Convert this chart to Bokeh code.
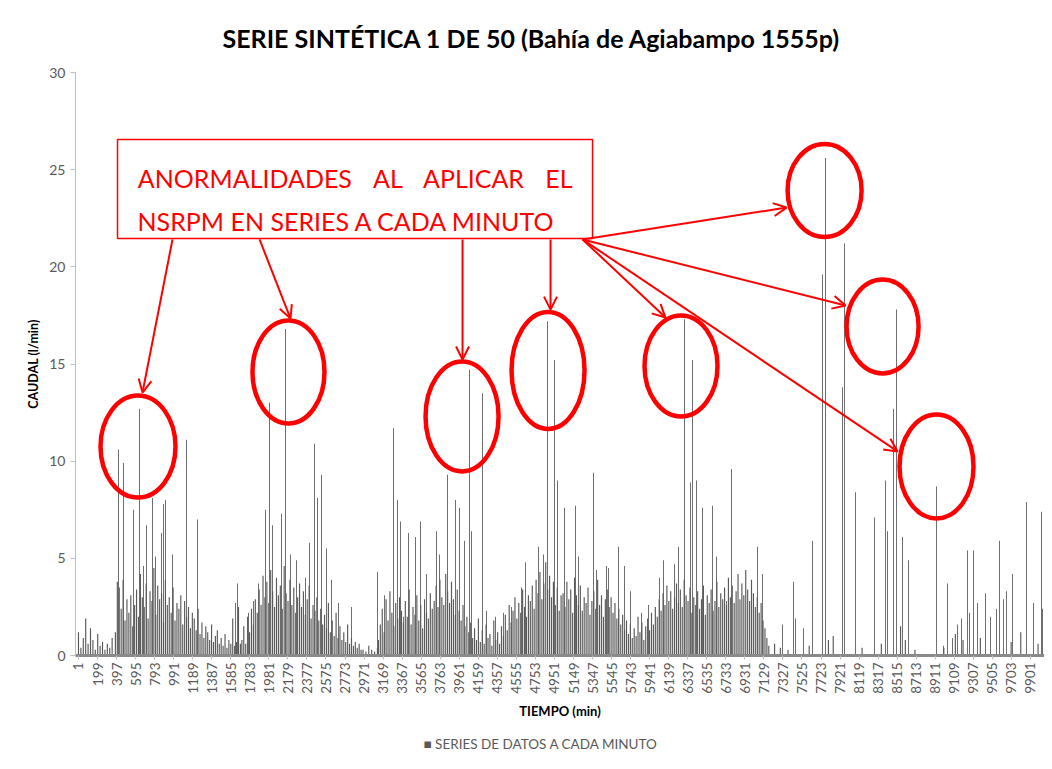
import numpy as np
from bokeh.plotting import figure
from bokeh.models import (ColumnDataSource, FixedTicker, Range1d, BoxAnnotation,
                          Label, Arrow, OpenHead, Title)
from bokeh.embed import file_html
from bokeh.resources import INLINE

# ---------------- DATA (minute index, caudal l/min) ----------------
spike_min = [417, 469, 573, 635, 677, 708, 771, 802, 864, 885, 906, 979, 1124, 1239,
             1634, 1655, 1769, 1821, 1873, 1946, 1987, 2019, 2112, 2154, 2206, 2268,
             2362, 2403, 2455, 2487, 2528, 2580, 2632, 2705, 2840, 3111, 3183, 3277,
             3319, 3350, 3381, 3433, 3506, 3558, 3620, 3724, 3755, 3839, 3922, 3963,
             4015, 4067, 4088, 4203, 4244, 4338, 4421, 4504, 4608, 4650, 4785, 4837,
             4879, 4951, 4983, 5055, 5170, 5201, 5357, 5388, 5492, 5513, 5617, 5679,
             5742, 5856, 5929, 6043, 6085, 6199, 6241, 6303, 6366, 6387, 6428, 6491,
             6595, 6636, 6740, 6792, 7063, 7115, 7323, 7437, 7458, 7541, 7635, 7739,
             7770, 7947, 7967, 8082, 8279, 8394, 8415, 8477, 8508, 8571, 8633, 8924,
             8997, 9039, 9091, 9143, 9184, 9247, 9267, 9309, 9351, 9434, 9486, 9548,
             9579, 9621, 9652, 9715, 9860, 9933, 10016, 10027]
spike_val = [10.6, 9.9, 7.5, 12.7, 4.6, 6.7, 8.1, 5.1, 6.3, 7.8, 8.0, 5.2, 11.1, 7.0,
             2.7, 3.7, 2.2, 2.8, 3.7, 7.5, 13.0, 6.7, 7.3, 16.8, 5.2, 4.9,
             4.0, 5.8, 10.9, 8.1, 9.3, 5.5, 3.9, 2.7, 2.5, 4.3, 3.1, 11.7,
             8.0, 6.9, 2.0, 6.3, 6.1, 6.9, 4.2, 6.4, 5.2, 9.3, 8.0, 7.6,
             5.9, 14.7, 6.4, 13.5, 2.3, 2.0, 2.2, 2.5, 3.5, 4.8, 5.6, 5.2,
             17.2, 15.2, 9.0, 7.6, 7.7, 5.1, 9.4, 4.4, 4.6, 4.5, 5.6, 4.6,
             3.3, 2.2, 2.6, 4.0, 4.9, 4.7, 5.6, 17.3, 8.9, 15.2, 9.0, 7.6,
             7.7, 5.1, 2.8, 9.6, 5.6, 4.2, 1.6, 3.8, 1.9, 1.4, 5.9, 19.6,
             25.6, 13.8, 21.2, 8.4, 7.1, 9.0, 6.4, 12.7, 17.8, 6.1, 4.9, 8.7,
             0.5, 3.7, 0.9, 1.6, 1.9, 5.4, 2.2, 5.4, 2.7, 3.2, 2.0, 2.4,
             5.9, 2.9, 3.3, 4.2, 7.9, 2.7, 7.4, 2.4]

# dense low-flow activity, sampled per stretch (start minute, step in minutes, values)
fill_a_start, fill_a_step = 1, 25
fill_a_val = [1.2, 0.4, 0.9, 1.9, 0.6, 1.4, 0.8, 0.3, 1.1, 0.5, 0.7, 0.3, 0.6, 0.4, 0.9]
fill_b_start, fill_b_step = 385, 20
fill_b_val = [1.2, 3.8, 3.5, 2.4, 3.9, 1.8, 2.9, 2.2, 3.1, 1.5, 2.6, 3.4, 2.0, 4.2, 3.0,
              2.5, 3.7, 1.9, 3.3, 2.8, 4.5, 2.1, 3.6, 2.9, 3.2, 1.7, 3.9, 2.6, 3.0, 2.2,
              3.5, 1.8, 2.7, 2.4, 3.1, 1.6, 2.8, 2.0, 2.5, 1.4, 2.2, 1.9, 1.3, 2.4, 1.1,
              1.7, 0.9, 1.5, 1.2, 0.8, 1.6, 0.7, 1.0, 1.3, 0.6, 0.9, 0.5, 1.1, 0.4, 0.8,
              0.6, 1.9, 0.5, 0.7, 2.5, 0.6]
fill_c_start, fill_c_step = 1700, 20
fill_c_val = [0.8, 1.5, 0.6, 2.0, 1.2, 2.4, 1.6, 2.9, 2.2, 3.4, 2.6, 4.1, 3.0, 3.8, 2.7,
              4.4, 3.3, 2.5, 4.0, 3.1, 3.6, 2.4, 4.6, 3.2, 2.8, 3.9, 2.6, 3.5, 2.2, 3.0,
              3.7, 2.5, 3.3, 2.1, 2.9, 3.6, 1.9, 2.6, 2.3, 3.0, 1.8, 2.4, 1.6, 2.1, 1.4,
              2.7, 1.2, 1.8, 1.0, 2.2, 0.9, 1.5, 0.8, 1.2, 0.7, 1.6, 0.6, 0.9, 0.5, 0.7,
              0.4, 0.6, 0.3]
fill_d_start, fill_d_step = 2960, 30
fill_d_val = [0.3, 0.2, 0.5, 0.3, 0.2, 0.4]
fill_e_start, fill_e_step = 3120, 20
fill_e_val = [0.8, 1.6, 2.4, 1.2, 2.9, 1.8, 3.3, 2.2, 1.5, 2.7, 1.9, 3.0, 2.3, 1.7, 2.8,
              2.0, 3.4, 1.6, 2.5, 2.1, 3.1, 1.8, 2.6, 1.4, 2.9, 2.2, 1.9, 3.2, 2.4, 2.8,
              3.6, 2.5, 3.9, 3.0, 2.6, 4.2, 3.3, 2.7, 3.8, 2.9, 2.1, 3.4, 2.3, 1.8, 2.6,
              1.5, 2.0, 1.2, 1.7, 0.9, 1.4, 0.8, 1.9, 0.7, 1.3, 0.6, 1.6, 0.9, 1.1, 0.5,
              1.8, 0.8, 1.2, 0.6, 1.5, 1.0, 2.1, 1.3, 2.6, 1.7, 2.3, 3.0, 1.9, 2.7, 2.2,
              3.4, 2.5, 2.0, 3.1, 2.8, 3.6, 2.4, 3.9, 3.2, 4.3, 2.9, 3.7, 4.8, 3.4, 4.1,
              3.0, 3.8, 2.6, 3.5, 2.3, 3.1]
fill_f_start, fill_f_step = 5040, 20
fill_f_val = [3.2, 2.5, 3.8, 2.9, 3.4, 2.2, 4.0, 3.1, 2.6, 3.6, 2.3, 3.0, 2.7, 3.5, 2.1,
              2.8, 3.3, 2.4, 3.9, 2.6, 3.1, 2.0, 2.9, 3.4, 2.5, 3.0, 2.2, 2.7, 1.9, 2.4,
              1.6, 2.1, 1.3, 1.8, 1.1, 1.6, 0.9, 1.4, 1.0, 2.0, 1.2, 1.7, 0.8, 1.5, 1.9,
              1.3, 2.2, 1.6, 2.5, 2.0, 2.9, 2.3, 3.2, 2.6, 3.6, 2.8, 3.3, 2.4, 3.0, 3.7,
              2.7, 3.4, 2.5, 3.9, 3.1, 2.8, 3.5, 2.2, 3.0, 2.6, 3.3, 2.4, 2.9, 3.6, 2.1,
              3.1, 2.7, 3.4, 2.3, 2.8, 3.8, 2.5, 3.2, 2.9, 3.5, 2.6, 4.0, 3.0, 3.6, 2.7,
              3.3, 4.2, 2.9, 3.7, 3.1, 4.4, 3.4, 2.8, 3.9, 3.2, 2.5, 3.0, 2.2, 2.7, 1.8,
              1.4, 0.9, 0.5]
fill_g_min = [7240, 7300, 7380, 7600, 7800, 7850, 8150, 8350, 8550, 8600, 8700, 9000,
              9120, 9200, 9380, 9700, 9800, 9980]
fill_g_val = [0.6, 0.4, 0.3, 0.5, 0.8, 1.0, 0.4, 0.6, 1.5, 0.8, 0.3, 0.4,
              1.1, 0.8, 0.9, 0.7, 1.2, 0.6]

tick_minutes = list(range(1, 9902, 198))
y_ticks = [0, 5, 10, 15, 20, 25, 30]
series_name = "SERIES DE DATOS A CADA MINUTO"

fill_min, fill_val = [], []
for st, sp, vals in [(fill_a_start, fill_a_step, fill_a_val), (fill_b_start, fill_b_step, fill_b_val),
                     (fill_c_start, fill_c_step, fill_c_val), (fill_d_start, fill_d_step, fill_d_val),
                     (fill_e_start, fill_e_step, fill_e_val), (fill_f_start, fill_f_step, fill_f_val)]:
    fill_min += [st + sp * i for i in range(len(vals))]
    fill_val += vals
fill_min += fill_g_min
fill_val += fill_g_val

# ---------------- FIGURE ----------------
FONT = "Lato"
GRAY = "#595959"
p = figure(width=1044, height=769, output_backend="svg", toolbar_location=None,
           x_range=Range1d(-30, 10047), y_range=Range1d(0, 30),
           min_border_left=75, min_border_right=0, min_border_top=72, min_border_bottom=114)
p.outline_line_color = None
p.background_fill_color = "white"
p.border_fill_color = "white"
p.xgrid.visible = False
p.ygrid.visible = False

p.title.text = "SERIE SINTÉTICA 1 DE 50 (Bahía de Agiabampo 1555p)"
p.title.text_font = FONT
p.title.text_font_size = "25px"
p.title.text_font_style = "bold"
p.title.text_color = "#000000"
p.title.align = "left"
p.title.offset = 147
p.title.standoff = 40

fill_src = ColumnDataSource(dict(x=fill_min, top=fill_val))
spk_src = ColumnDataSource(dict(x=spike_min, top=spike_val))
p.vbar(x="x", top="top", bottom=0, width=12, source=fill_src, fill_color=GRAY, line_color=None)
p.vbar(x="x", top="top", bottom=0, width=9, source=spk_src, fill_color=GRAY, line_color=None)

# axes
p.yaxis.ticker = FixedTicker(ticks=y_ticks)
p.yaxis.axis_label = "CAUDAL (l/min)"
p.yaxis.axis_label_text_font = FONT
p.yaxis.axis_label_text_font_size = "12.5px"
p.yaxis.axis_label_text_font_style = "bold"
p.yaxis.axis_label_text_color = "#000000"
p.yaxis.major_label_text_font = FONT
p.yaxis.major_label_text_font_size = "14px"
p.yaxis.major_label_text_color = GRAY
p.yaxis.axis_line_color = "#bfbfbf"
p.yaxis.major_tick_line_color = "#bfbfbf"
p.yaxis.major_tick_out = 5
p.yaxis.major_tick_in = 0
p.yaxis.minor_tick_line_color = None

p.xaxis.ticker = FixedTicker(ticks=tick_minutes)
p.xaxis.major_label_orientation = np.pi / 2
p.xaxis.axis_label = "TIEMPO (min)"
p.xaxis.axis_label_text_font = FONT
p.xaxis.axis_label_text_font_size = "13px"
p.xaxis.axis_label_text_font_style = "bold"
p.xaxis.axis_label_text_color = "#000000"
p.xaxis.axis_label_standoff = 6
p.xaxis.major_label_text_font = FONT
p.xaxis.major_label_text_font_size = "13.5px"
p.xaxis.major_label_text_color = GRAY
p.xaxis.major_label_standoff = 3
p.xaxis.axis_line_color = "#8a8a8a"
p.xaxis.axis_line_width = 3
p.xaxis.major_tick_line_color = "#bfbfbf"
p.xaxis.major_tick_out = 4
p.xaxis.major_tick_in = 0
p.xaxis.minor_tick_line_color = None

# legend line (key square + series name) under the axis title
leg = Title(text="\u25A0 " + series_name, text_font=FONT, text_font_size="13.5px",
            text_font_style="normal", text_color=GRAY, align="left", offset=348, standoff=25)
p.add_layout(leg, "below")

# ---------------- ANNOTATIONS ----------------
RED = "#ff0000"
box = BoxAnnotation(left=407, right=5347, bottom=21.46, top=26.55, fill_color="white",
                    fill_alpha=1.0, line_color=RED, line_alpha=1.0, line_width=1.5)
p.add_layout(box)

words = [("ANORMALIDADES", 618, "left"), ("AL", 3219, "center"),
         ("APLICAR", 4109, "center"), ("EL", 5139, "right")]
for txt, xm, al in words:
    p.add_layout(Label(x=xm, y=24.58, text=txt, text_font=FONT, text_font_size="25px",
                       text_color=RED, text_align=al, text_baseline="alphabetic"))
p.add_layout(Label(x=615, y=22.38, text="NSRPM EN SERIES A CADA MINUTO", text_font=FONT,
                   text_font_size="25px", text_color=RED, text_align="left",
                   text_baseline="alphabetic"))

ell_x = [620, 2185, 3990, 4884, 6267, 7760, 8363, 8924]
ell_y = [10.75, 14.59, 12.30, 14.67, 14.90, 23.93, 16.93, 9.73]
ell_w = [75, 72, 73, 73, 73, 74, 72, 74]
ell_h = [102, 103, 110, 117, 101, 93, 94, 104]
p.ellipse(x=ell_x, y=ell_y, width=ell_w, height=ell_h, width_units="screen",
          height_units="screen", fill_color=None, line_color=RED, line_width=4.5)

arrows = [(979, 21.41, 667, 13.53), (1884, 21.41, 2206, 17.34), (3995, 21.41, 3995, 15.23),
          (4910, 21.41, 4910, 17.80), (5243, 21.41, 6106, 17.39), (5243, 21.41, 7364, 23.05),
          (5243, 21.41, 7978, 18.01), (5243, 21.41, 8519, 10.50)]
for xs, ys, xe, ye in arrows:
    p.add_layout(Arrow(end=OpenHead(size=13, line_color=RED, line_width=2),
                       x_start=xs, y_start=ys, x_end=xe, y_end=ye,
                       line_color=RED, line_width=2))

open("out.html", "w").write(file_html(p, INLINE))
